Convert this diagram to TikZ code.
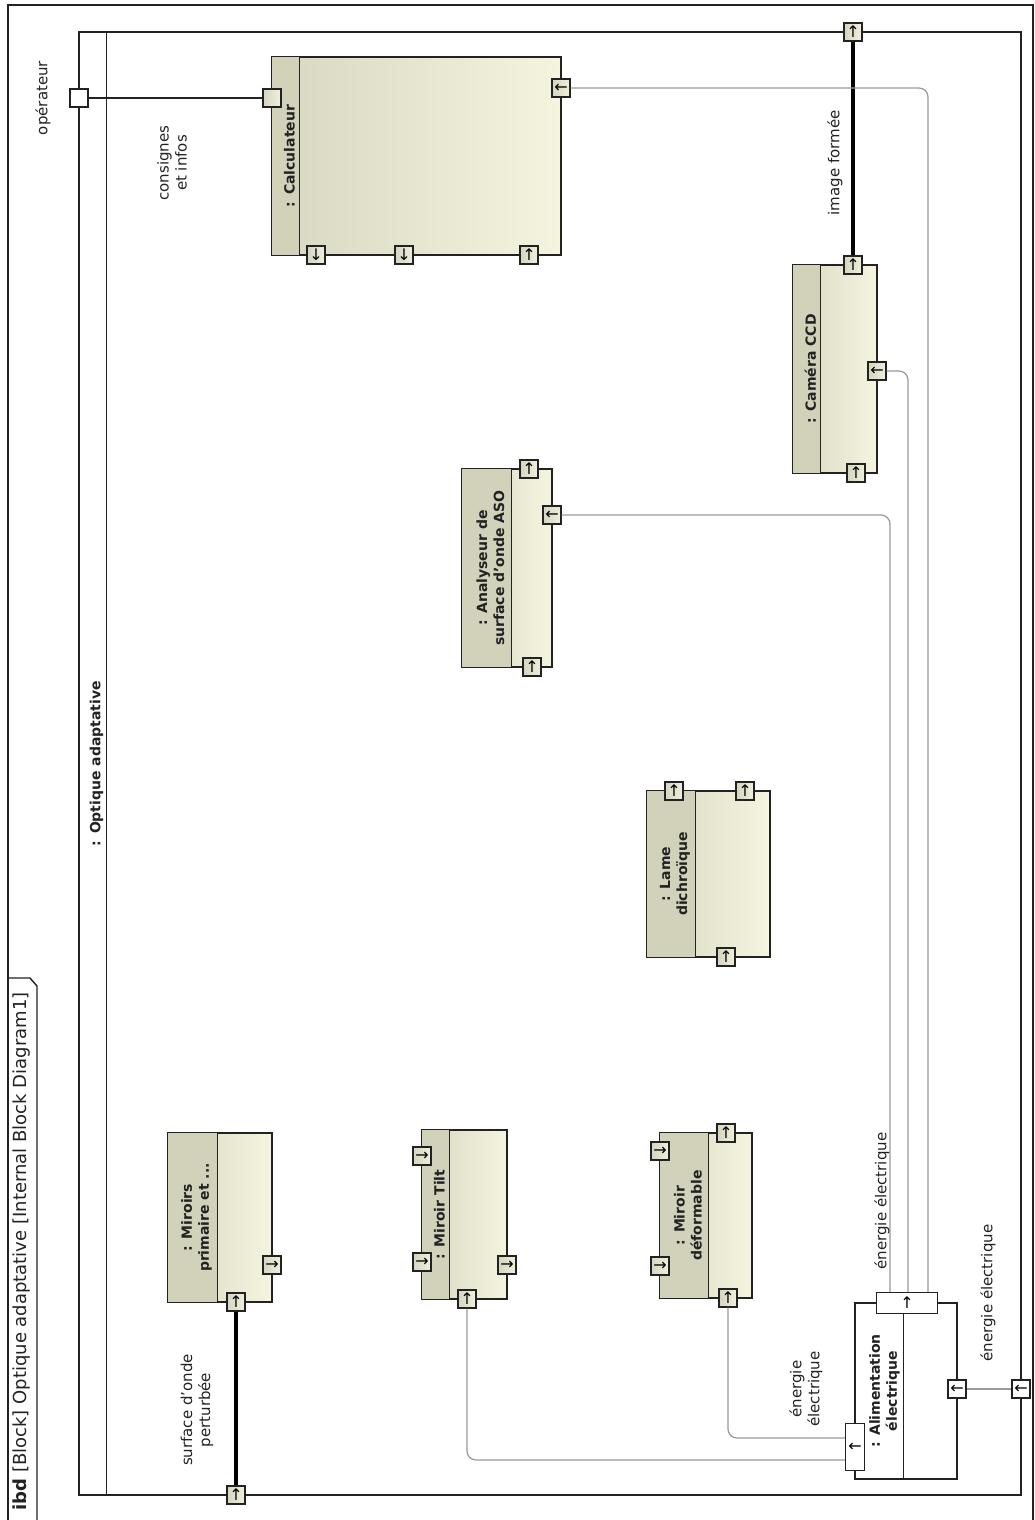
\documentclass[tikz,border=0pt]{standalone}
\usepackage{fontspec}
\setmainfont{DejaVu Sans}
\usetikzlibrary{calc}
\definecolor{ink}{HTML}{222222}
\definecolor{wiregray}{HTML}{9A9A9A}
\definecolor{hdr}{HTML}{D2D1BA}
\definecolor{shadeL}{HTML}{D8D7C0}
\definecolor{shadeR}{HTML}{F5F4DF}
\definecolor{portL}{HTML}{D6D5C0}
\definecolor{portR}{HTML}{F1F0DD}

\begin{document}
\begin{tikzpicture}[x=1pt,y=-1pt,
    block/.style={draw=ink,line width=1.2pt,left color=shadeL,right color=shadeR,inner sep=0pt},
    port/.style={draw=ink,line width=1.1pt,left color=portL,right color=portR,minimum size=18pt,inner sep=0pt,font=\fontsize{16}{16}\selectfont},
    wport/.style={draw=ink,line width=1.1pt,fill=white,minimum size=18pt,inner sep=0pt,font=\fontsize{16}{16}\selectfont},
    partname/.style={rotate=90,font=\bfseries\fontsize{14}{17}\selectfont,align=center,text=ink},
    lbl/.style={rotate=90,font=\fontsize{15}{18}\selectfont,align=center,text=ink},
    elec/.style={draw=wiregray,line width=1.2pt,rounded corners=9pt},
    flow/.style={draw=black,line width=4pt}]
  \useasboundingbox (0,0) rectangle (1035,1520);

  % diagram frame
  \draw[ink,line width=1.4pt] (8,1520) -- (8,5) -- (1033,5) -- (1033,1520);
  \draw[ink,line width=1.4pt] (37,1520) -- (37,986) -- (30,978) -- (8,978);
  \node[rotate=90,anchor=west,font=\fontsize{18}{20}\selectfont,text=ink] (diag) at (22,1514)
    {\textbf{ibd} [Block] Optique adaptative [Internal Block Diagram1]};

  % part Optique adaptative
  \node[draw=ink,line width=1.2pt,minimum width=942pt,minimum height=1463pt,inner sep=0pt] (part) at (550,763.5) {};
  \draw[ink,line width=1.2pt] ($(part.north west)+(28,0)$) -- ($(part.south west)+(28,0)$);
  \node[partname] (partN) at ($(part.west)+(18,0)$) {: Optique adaptative};

  % blocks
  \node[block,minimum width=289pt,minimum height=198pt] (calc) at (416.5,156) {};
  \node[block,minimum width=84pt,minimum height=208pt] (ccd) at (835,369) {};
  \node[block,minimum width=90pt,minimum height=198pt] (aso) at (507,568) {};
  \node[block,minimum width=123pt,minimum height=166pt] (lame) at (708.5,874) {};
  \node[block,minimum width=104pt,minimum height=169pt] (prim) at (220,1217.5) {};
  \node[block,minimum width=85pt,minimum height=169pt] (tilt) at (464.5,1214.5) {};
  \node[block,minimum width=92pt,minimum height=165pt] (defo) at (706,1215.5) {};
  \node[draw=ink,line width=1.2pt,fill=white,minimum width=102pt,minimum height=176pt,inner sep=0pt] (alim) at (906,1391) {};

  \foreach \blk/\hw in {calc/28,ccd/28,aso/50,lame/49,prim/50,tilt/28,defo/49}{
    \fill[hdr] (\blk.north west) rectangle ($(\blk.south west)+(\hw,0)$);
    \draw[ink,line width=1.2pt] (\blk.north west) rectangle (\blk.south east)
      ($(\blk.north west)+(\hw,0)$) -- ($(\blk.south west)+(\hw,0)$);
  }
  \draw[ink,line width=1.2pt] ($(alim.north west)+(49,0)$) -- ($(alim.south west)+(49,0)$);

  % ports on the part frame
  \node[wport] (pOp) at (79,98) {};
  \node[port] (pImg) at (853,32) {↑};
  \node[port] (pSurf) at (236,1495) {↑};
  \node[wport] (pEn) at (1021,1389) {←};

  % ports on the blocks
  \node[port] (calcOp) at (272,98) {};
  \node[port] (calcR) at (561,88) {←};
  \node[port] (calcB1) at (316,255) {↓};
  \node[port] (calcB2) at (404,255) {↓};
  \node[port] (calcB3) at (529,255) {↑};
  \node[port] (ccdT) at (853,265) {↑};
  \node[port] (ccdR) at (877,371) {←};
  \node[port] (ccdB) at (856,473) {↑};
  \node[port] (asoT) at (529,469) {↑};
  \node[port] (asoR) at (552,515) {←};
  \node[port] (asoB) at (532,667) {↑};
  \node[port] (lameT1) at (674,791) {↑};
  \node[port] (lameT2) at (745,791) {↑};
  \node[port] (lameB) at (726,957) {↑};
  \node[port] (primR) at (272,1265) {→};
  \node[port] (primB) at (236,1302) {↑};
  \node[port] (tiltL1) at (422,1156) {→};
  \node[port] (tiltL2) at (422,1262) {→};
  \node[port] (tiltR) at (507,1265) {→};
  \node[port] (tiltB) at (467,1299) {↑};
  \node[port] (defoT) at (726,1133) {↑};
  \node[port] (defoL1) at (660,1151) {→};
  \node[port] (defoL2) at (660,1266) {→};
  \node[port] (defoB) at (728,1298) {↑};
  \node[wport,minimum width=61pt,minimum height=21pt] (alimT) at (907,1303) {↑};
  \node[wport,minimum width=19pt,minimum height=47pt] (alimL) at (855,1447) {←};
  \node[wport] (alimR) at (957,1389) {←};

  % connectors
  \draw[ink,line width=1.2pt] (pOp.east) -- (calcOp.west);
  \draw[flow] (pImg.south) -- (ccdT.north);
  \draw[flow] (primB.south) -- (pSurf.north);
  \draw[elec] (calcR.east) -| ([xshift=21pt]alimT.north);
  \draw[elec] (ccdR.east) -| ([xshift=1pt]alimT.north);
  \draw[elec] (asoR.east) -| ([xshift=-17pt]alimT.north);
  \draw[elec] (defoB.south) |- ([yshift=9pt]alimL.west);
  \draw[elec] (tiltB.south) |- ([yshift=-13pt]alimL.west);
  \draw[elec] (alimR.east) -- (pEn.west);

  % block names
  \node[partname] (calcN) at ($(calc.west)+(18,0)$) {: Calculateur};
  \node[partname] (ccdN) at ($(ccd.west)+(18,0)$) {: Caméra CCD};
  \node[partname] (asoN) at ($(aso.west)+(29,0)$) {: Analyseur de\\surface d'onde ASO};
  \node[partname] (lameN) at ($(lame.west)+(28.5,0)$) {: Lame\\dichroïque};
  \node[partname] (primN) at ($(prim.west)+(29,0)$) {: Miroirs\\primaire et ...};
  \node[partname] (tiltN) at ($(tilt.west)+(18,0)$) {: Miroir Tilt};
  \node[partname] (defoN) at ($(defo.west)+(28.5,0)$) {: Miroir\\déformable};
  \node[partname] (alimN) at ($(alim.west)+(30,0)$) {: Alimentation\\électrique};

  % flow labels
  \node[lbl] (opL) at (43,98) {opérateur};
  \node[lbl] (consL) at (172,163) {consignes\\et infos};
  \node[lbl] (imgL) at (835,163) {image formée};
  \node[lbl] (surfL) at (197,1410) {surface d'onde\\perturbée};
  \node[lbl] (enL1) at (882,1201) {énergie électrique};
  \node[lbl] (enL2) at (806,1389) {énergie\\électrique};
  \node[lbl] (enL3) at (988,1293) {énergie électrique};
\end{tikzpicture}
\end{document}
